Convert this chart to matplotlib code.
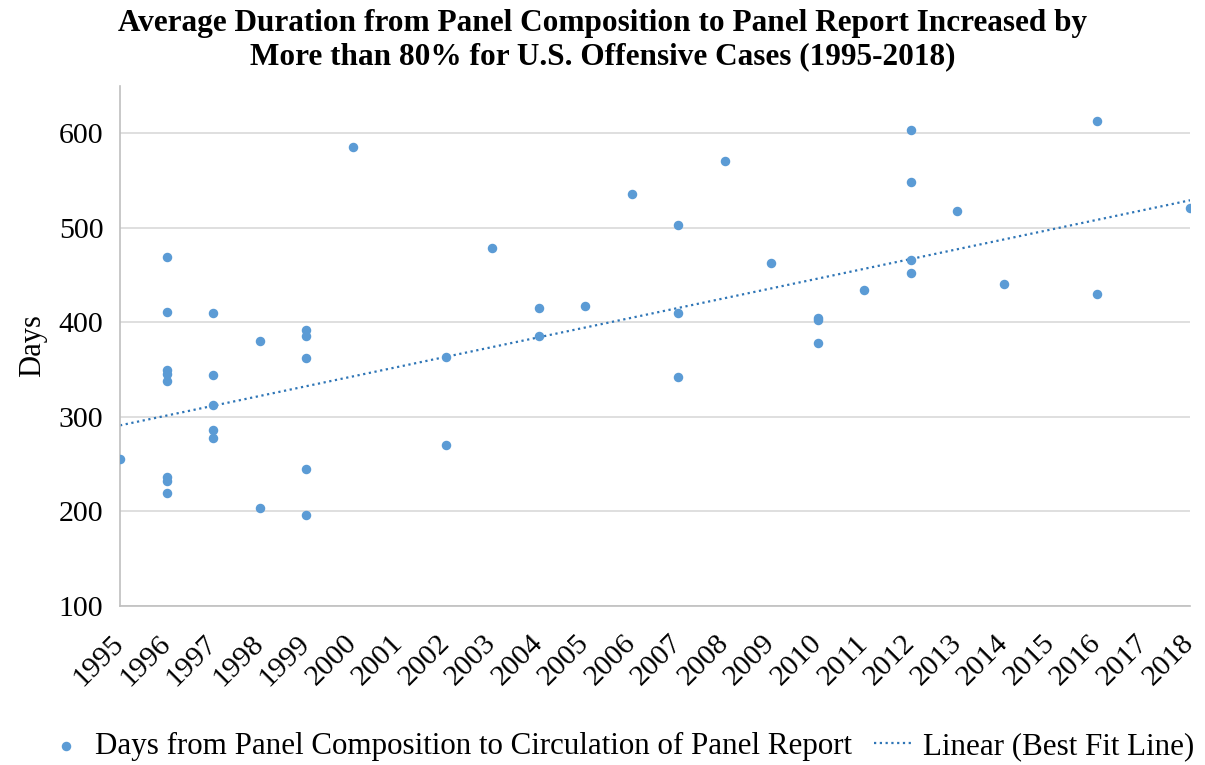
import numpy as np
import matplotlib
matplotlib.use('Agg')
import matplotlib.pyplot as plt

# data
years = [1995,
         1996, 1996, 1996, 1996, 1996, 1996, 1996, 1996,
         1997, 1997, 1997, 1997, 1997,
         1998, 1998,
         1999, 1999, 1999, 1999, 1999,
         2000,
         2002, 2002,
         2003,
         2004, 2004,
         2005,
         2006,
         2007, 2007, 2007,
         2008,
         2009,
         2010, 2010, 2010,
         2011,
         2012, 2012, 2012, 2012,
         2013,
         2014,
         2016, 2016,
         2018]
days = [255,
        469, 411, 350, 345, 338, 236, 232, 219,
        410, 344, 313, 286, 278,
        380, 204,
        392, 386, 362, 245, 196,
        585,
        363, 270,
        479,
        415, 385,
        417,
        536,
        503, 410, 342,
        571,
        463,
        405, 402, 378,
        434,
        603, 548, 466, 452,
        518,
        441,
        613, 430,
        521]
tick_years = list(range(1995, 2019))

# best fit line as shown in the reference (value at first and last year)
trend_years = [1995, 2018]
trend_days = [291, 529]

title = ('Average Duration from Panel Composition to Panel Report Increased by\n'
         'More than 80% for U.S. Offensive Cases (1995-2018)')

plt.rcParams['font.family'] = ['Liberation Serif', 'DejaVu Serif']

fig = plt.figure(figsize=(12.05, 7.65), dpi=100)
ax = fig.add_axes([0.0996, 0.2078, 0.888, 0.68])

ax.scatter(years, days, s=34, color='#5B9BD5', zorder=3,
           label='Days from Panel Composition to Circulation of Panel Report')
ax.plot(trend_years, trend_days, linestyle=(0, (1, 1.6)), color='#2E75B6',
        linewidth=1.6, zorder=2, label='Linear (Best Fit Line)')

ax.set_xlim(1995, 2018)
ax.set_ylim(100, 650)
ax.set_yticks([100, 200, 300, 400, 500, 600])
ax.set_xticks(tick_years)
ax.set_xticklabels([str(t) for t in tick_years], rotation=45, ha='right',
                   va='center', rotation_mode='anchor')
ax.tick_params(axis='both', length=0, labelsize=21.5, colors='black')
ax.tick_params(axis='x', pad=24)
ax.tick_params(axis='y', pad=12)

ax.grid(axis='y', color='#D9D9D9', linewidth=1.2)
ax.set_axisbelow(True)
for side in ['top', 'right']:
    ax.spines[side].set_visible(False)
ax.spines['left'].set_color('#BFBFBF')
ax.spines['bottom'].set_color('#BFBFBF')
ax.spines['left'].set_linewidth(1.2)
ax.spines['bottom'].set_linewidth(1.2)

ax.set_ylabel('Days', fontsize=22, labelpad=8)

fig.suptitle(title, fontsize=22.5, fontweight='bold', y=0.988, linespacing=1.2)

fig.legend(loc='center', bbox_to_anchor=(0.5145, 0.024), ncol=2, frameon=False,
           fontsize=22.3, markerscale=1.0, handlelength=1.3, columnspacing=0.7,
           handletextpad=0.3)

fig.savefig('out.png', dpi=100)
